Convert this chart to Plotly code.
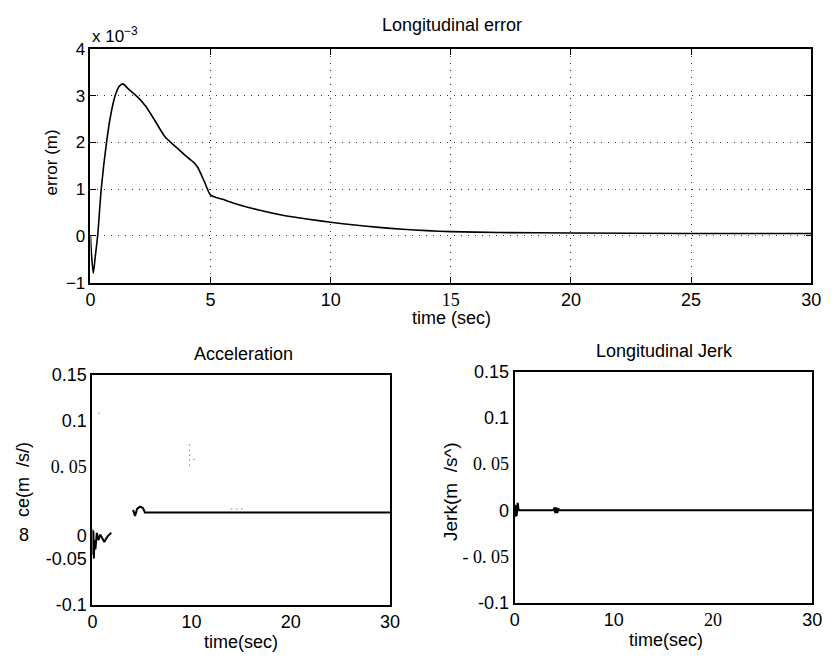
import plotly.graph_objects as go

W, H = 835, 665

# ---------------- data ----------------
# Longitudinal error (x 1e-3 m)
err_t = [0, 0.05, 0.12, 0.2, 0.3, 0.45, 0.67, 0.85, 1.03, 1.2, 1.35, 1.6, 2.0, 2.3,
         2.7, 3.1, 3.6, 4.08, 4.3, 4.48, 4.75, 5.0, 5.5, 6.0, 7.0, 8.0, 9.0, 10, 11, 12,
         13, 14, 15, 17, 20, 25, 30]
err_v = [0, -0.45, -0.8, -0.45, 0.0, 1.0, 2.0, 2.6, 3.0, 3.2, 3.25, 3.13, 2.95, 2.77,
         2.45, 2.12, 1.88, 1.66, 1.57, 1.45, 1.15, 0.87, 0.78, 0.69, 0.55, 0.44, 0.36, 0.29,
         0.23, 0.18, 0.14, 0.11, 0.09, 0.07, 0.06, 0.05, 0.05]

# Acceleration (m/s^2)
acc_t = [0, 0.05, 0.1, 0.15, 0.2, 0.3, 0.45, 0.6, 0.8, 1.0, 1.2, 1.4, 1.6, 1.9, None,
         4.1, 4.3, 4.5, 4.8, 5.1, 5.3, 5.5, 30]
acc_v = [-0.018, -0.046, -0.02, -0.05, -0.03, -0.04, -0.022, -0.03, -0.024, -0.028, -0.032,
         -0.028, -0.025, -0.022, None,
         0.003, -0.0037, 0.004, 0.0065, 0.005, 0.0, 0.0, 0.0]
# faint remnants of grid dots in the scan
acc_dot_t = [0.6, 0.9, None, 9.8, 9.8, None, 10.2, 10.6, None, 14.0, 15.5]
acc_dot_v = [0.108, 0.108, None, 0.074, 0.049, None, 0.058, 0.058, None, 0.004, 0.004]

# Longitudinal jerk (m/s^3)
jerk_t = [0, 0.05, 0.1, 0.15, 0.2, 0.3, 0.4, 0.5, 1, 3.9, 4.0, 4.1, 4.2, 4.3, 4.4, 4.5, 30]
jerk_v = [0, 0.006, -0.007, 0.005, -0.006, 0.008, 0, 0, 0, 0, 0.003, -0.003, 0.003, -0.003,
          0.002, 0, 0]

SERIF = "<span style=\"font-family:Liberation Serif\">%s</span>"

top_xticks = [0, 5, 10, 15, 20, 25, 30]
top_xtext = ["0", "5", "10", SERIF % "15", "20", "25", "30"]
top_yticks = [-1, 0, 1, 2, 3, 4]
top_ytext = ["\u22121", "0", "1", "2", "3", "4"]

bot_xticks = [0, 10, 20, 30]
acc_xtext = ["0", "10", "20", "30"]
jerk_xtext = ["0", "10", SERIF % "20", "30"]
acc_yticks = [-0.1, -0.05, -0.025, 0.05, 0.1, 0.15]
acc_ytext = ["-0.1", "-0.05", "0", SERIF % "0. 05", "0.1", "0.15"]
jerk_yticks = [-0.1, -0.05, 0, 0.05, 0.1, 0.15]
jerk_ytext = ["-0.1", SERIF % "- 0. 05", "0", SERIF % "0. 05", "0.1", "0.15"]


def fx(p):
    return p / W


def fy(p):
    return 1 - p / H


FONT = "Liberation Sans, Arial, sans-serif"

fig = go.Figure()
fig.add_trace(go.Scatter(x=err_t, y=err_v, mode="lines",
                         line=dict(color="black", width=1.6, shape="spline", smoothing=0.6),
                         xaxis="x", yaxis="y", showlegend=False))
fig.add_trace(go.Scatter(x=acc_t, y=acc_v, mode="lines", line=dict(color="black", width=2),
                         xaxis="x2", yaxis="y2", showlegend=False, connectgaps=False))
fig.add_trace(go.Scatter(x=acc_dot_t, y=acc_dot_v, mode="lines",
                         line=dict(color="#444", width=1, dash="1px,4px"),
                         xaxis="x2", yaxis="y2", showlegend=False))
fig.add_trace(go.Scatter(x=jerk_t, y=jerk_v, mode="lines", line=dict(color="black", width=2),
                         xaxis="x3", yaxis="y3", showlegend=False))

common_axis = dict(showline=True, linecolor="black", mirror=True, zeroline=False,
                   tickfont=dict(family=FONT, size=18, color="black"))

GRID = dict(showgrid=True, gridcolor="#333", griddash="1px,6px", gridwidth=1)

fig.update_layout(
    width=W, height=H, margin=dict(l=0, r=0, t=0, b=0),
    paper_bgcolor="white", plot_bgcolor="white",
    font=dict(family=FONT, color="black"),
    xaxis=dict(common_axis, domain=[fx(87), fx(821)], anchor="y", range=[0, 30],
               tickvals=top_xticks, ticktext=top_xtext, linewidth=1.5,
               ticks="inside", ticklen=6, tickcolor="black", mirror="allticks", **GRID),
    yaxis=dict(common_axis, domain=[fy(281), fy(40)], anchor="x", range=[-1, 4],
               tickvals=top_yticks, ticktext=top_ytext, linewidth=1.5,
               ticks="inside", ticklen=6, tickcolor="black", mirror="allticks",
               tickfont=dict(family=FONT, size=17, color="black"), **GRID),
    xaxis2=dict(common_axis, domain=[fx(89), fx(392)], anchor="y2", range=[0, 30],
                tickvals=bot_xticks, ticktext=acc_xtext, linewidth=2, ticks="", showgrid=False),
    yaxis2=dict(common_axis, domain=[fy(613), fy(376)], anchor="x2", range=[-0.1, 0.15],
                tickvals=acc_yticks, ticktext=acc_ytext, linewidth=2, ticks="", showgrid=False),
    xaxis3=dict(common_axis, domain=[fx(519), fx(822)], anchor="y3", range=[0, 30],
                tickvals=bot_xticks, ticktext=jerk_xtext, linewidth=2, ticks="", showgrid=False),
    yaxis3=dict(common_axis, domain=[fy(611), fy(373)], anchor="x3", range=[-0.1, 0.15],
                tickvals=jerk_yticks, ticktext=jerk_ytext, linewidth=2, ticks="", showgrid=False),
)

ann = [
    dict(text="Longitudinal error", x=fx(455), y=fy(15), size=18, angle=0),
    dict(text="x 10<sup>\u22123</sup>", x=fx(112), y=fy(26), size=17, angle=0),
    dict(text="error (m)", x=fx(47), y=fy(157), size=17, angle=-90),
    dict(text="time (sec)", x=fx(455), y=fy(318), size=18, angle=0),
    dict(text="Acceleration", x=fx(243), y=fy(355), size=18, angle=0),
    dict(text="ce(m  /s/)", x=fx(19), y=fy(484), size=18, angle=-90),
    dict(text="8", x=fx(19), y=fy(541), size=18, angle=0),
    dict(text="time(sec)", x=fx(240), y=fy(652), size=18, angle=0),
    dict(text="Longitudinal Jerk", x=fx(672), y=fy(352), size=18, angle=0),
    dict(text="Jerk(m  /s^)", x=fx(453), y=fy(496), size=19, angle=-90),
    dict(text="time(sec)", x=fx(673), y=fy(650), size=18, angle=0),
]
for a in ann:
    fig.add_annotation(text=a["text"], x=a["x"], y=a["y"], xref="paper", yref="paper",
                       showarrow=False, textangle=a["angle"], xanchor="center", yanchor="middle",
                       font=dict(family=FONT, size=a["size"], color="black"))

fig.write_html("out.html")
